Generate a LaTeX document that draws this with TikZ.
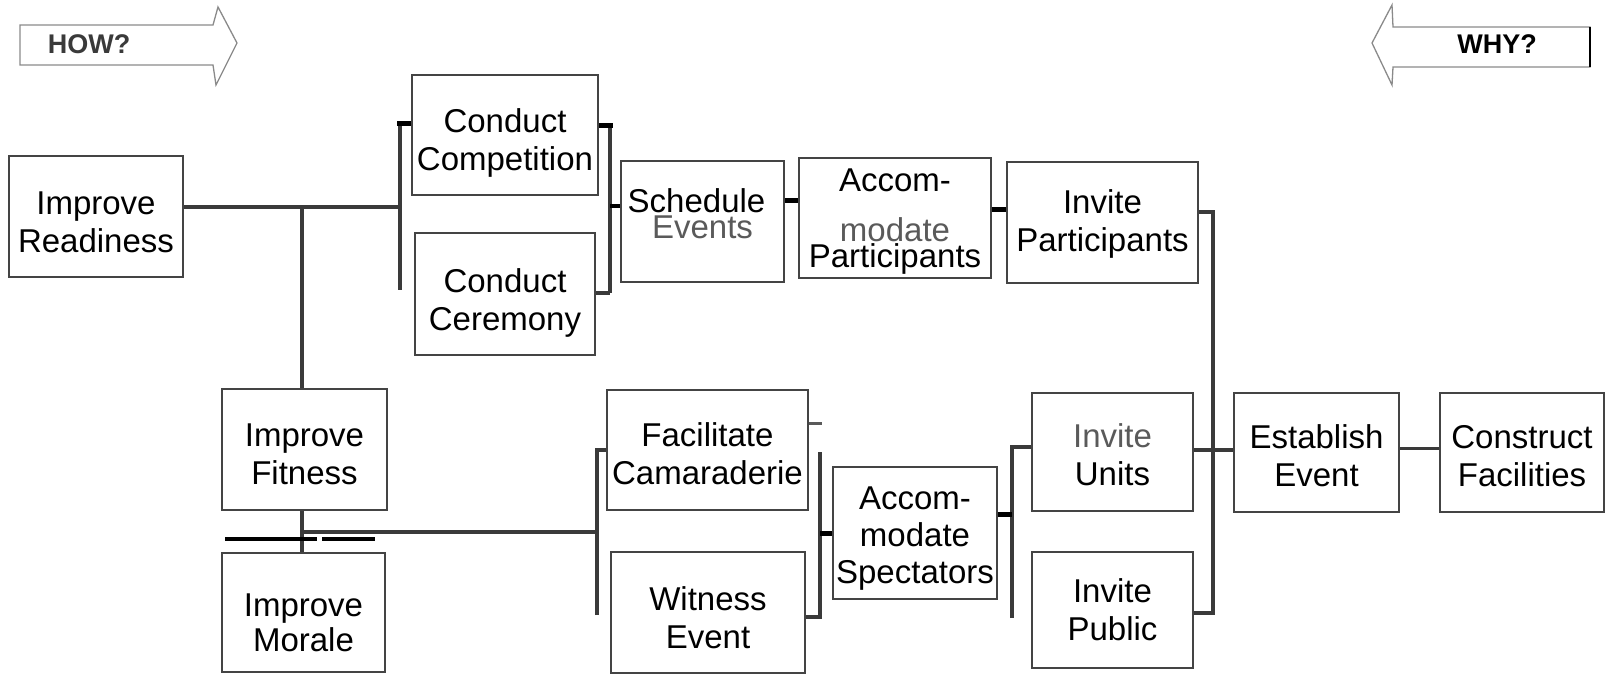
\documentclass[tikz,border=0pt]{standalone}
\usepackage{fontspec}
\setmainfont{Liberation Sans}
\definecolor{boxline}{HTML}{444444}
\definecolor{linkgray}{HTML}{3A3A3A}
\definecolor{textgray}{HTML}{5A5A5A}
\definecolor{arrowgray}{HTML}{8A8A8A}
% struts that set where the text lines sit inside a box
\newcommand\boxtopstrut[1]{\rule{0pt}{#1pt}}
\newcommand\boxbotstrut[1]{\rule[-#1pt]{0pt}{#1pt}}
\begin{document}
\begin{tikzpicture}[x=1pt,y=-1pt,
  fbox/.style={draw=boxline, line width=2.6pt, align=center, inner sep=0pt,
    font=\fontsize{33}{38}\selectfont, text=black},
  link/.style={draw=linkgray, line width=4pt},
  stub/.style={draw=black, line width=5pt},
  hint/.style={font=\fontsize{27}{30}\selectfont\bfseries, inner sep=0pt}]
\useasboundingbox (0,0) rectangle (1606,677);

% HOW? / WHY? direction arrows
\draw[arrowgray, line width=1.3pt, line join=miter]
  (20,25) -- (213,25) -- (218,7) -- (237,43) -- (216,85) -- (213,65) -- (20,65) -- cycle;
\node[hint, text=linkgray] (how) at (89,44) {HOW?};
\draw[arrowgray, line width=1.3pt, line join=miter]
  (1590,27) -- (1393,27) -- (1392,5) -- (1372,43) -- (1392,85) -- (1393,67) -- (1590,67) -- cycle;
\draw[black, line width=2pt] (1590,27) -- (1590,67);
\node[hint, text=black] (why) at (1497,44) {WHY?};

% function boxes
\node[fbox, minimum width=174pt, minimum height=121pt] (IR) at (96,216.5)
  {\boxtopstrut{43.6}Improve\\Readiness\boxbotstrut{9}};
\node[fbox, minimum width=186pt, minimum height=120pt] (CC1) at (505,135)
  {\boxtopstrut{42.6}Conduct\\Competition\boxbotstrut{9}};
\node[fbox, minimum width=180pt, minimum height=122pt] (CC2) at (505,294)
  {\boxtopstrut{44.6}Conduct\\Ceremony\boxbotstrut{9}};
\node[fbox, minimum width=163pt, minimum height=121pt] (SE) at (702.5,221.5)
  {Schedule\hspace*{12pt}\\[-12pt]{\color{textgray}Events}\boxbotstrut{15}};
\node[fbox, minimum width=192pt, minimum height=120pt] (AP) at (895,218)
  {\boxtopstrut{32.6}Accom-\\[12pt]{\color{textgray}modate}\\[-12pt]Participants\boxbotstrut{9}};
\node[fbox, minimum width=191pt, minimum height=121pt] (IP) at (1102.5,222.5)
  {\boxtopstrut{29.6}Invite\\Participants\boxbotstrut{9}};
\node[fbox, minimum width=165pt, minimum height=121pt] (IF) at (304.5,449.5)
  {\boxtopstrut{41.6}Improve\\Fitness\boxbotstrut{9}};
\node[fbox, minimum width=163pt, minimum height=119pt] (IM) at (303.5,612.5)
  {\boxtopstrut{51.6}Improve\\[-3pt]Morale\boxbotstrut{9}};
\node[fbox, minimum width=201pt, minimum height=120pt] (FC) at (707.5,450)
  {\boxtopstrut{40.6}Facilitate\\Camaraderie\boxbotstrut{9}};
\node[fbox, minimum width=194pt, minimum height=121pt] (WE) at (708,612.5)
  {\boxtopstrut{43.6}Witness\\Event\boxbotstrut{9}};
\node[fbox, minimum width=164pt, minimum height=132pt] (AS) at (915,533)
  {\boxtopstrut{36.6}Accom-\\[-1pt]modate\\[-1pt]Spectators\boxbotstrut{9}};
\node[fbox, minimum width=161pt, minimum height=118pt] (IU) at (1112.5,452)
  {\boxtopstrut{37.6}{\color{textgray}Invite}\\Units\boxbotstrut{9}};
\node[fbox, minimum width=161pt, minimum height=116pt] (IPub) at (1112.5,610)
  {\boxtopstrut{32.6}Invite\\Public\boxbotstrut{9}};
\node[fbox, minimum width=165pt, minimum height=119pt] (EE) at (1316.5,452.5)
  {\boxtopstrut{39.6}Establish\\Event\boxbotstrut{9}};
\node[fbox, minimum width=164pt, minimum height=119pt] (CF) at (1522,452.5)
  {\boxtopstrut{39.6}Construct\\Facilities\boxbotstrut{9}};

% junction and bracket points
\coordinate (j0) at (302,207);
\coordinate (j1) at (302,532);
\coordinate (b1t) at (400,123);
\coordinate (b1b) at (400,290);
\coordinate (b2t) at (610,125);
\coordinate (b2m) at (610,206);
\coordinate (b2b) at (610,293);
\coordinate (r1) at (0,200);
\coordinate (r2) at (0,209);
\coordinate (b5t) at (1213,212);
\coordinate (b5b) at (1213,613);
\coordinate (r5) at (0,450);
\coordinate (r6) at (0,448);
\coordinate (b4t) at (1012,447);
\coordinate (b4b) at (1012,618);
\coordinate (r7) at (0,514);
\coordinate (b3t) at (820,452);
\coordinate (b3b) at (820,617);
\coordinate (r8) at (0,423);
\coordinate (b3s) at (822,423);
\coordinate (b6t) at (597,450);
\coordinate (b6b) at (597,615);

% upper branch
\draw[link] (IR.east |- j0) -- (b1t |- j0);
\draw[link] (j0) -- (j0 |- IF.north);
\draw[link] (b1t) -- (b1b);
\draw[stub] ([xshift=-3pt]b1t) -- (b1t -| CC1.west);
\draw[link] (b2t) -- (b2b);
\draw[stub] (b2t -| CC1.east) -- ([xshift=3pt]b2t);
\draw[link] (b2b -| CC2.east) -- (b2b);
\draw[draw=black, line width=3.5pt] (b2m) -- (b2m -| SE.west);
\draw[stub] (SE.east |- r1) -- (AP.west |- r1);
\draw[stub] (AP.east |- r2) -- (IP.west |- r2);

% right bracket into Establish Event
\draw[link] (IP.east |- b5t) -- (b5t) -- (b5b) -- (IPub.east |- b5b);
\draw[link] (IU.east |- r5) -- (EE.west |- r5);
\draw[link, line width=3pt] (EE.east |- r6) -- (CF.west |- r6);

% lower branch
\draw[link] (j1 |- IF.south) -- (j1 |- IM.north);
\draw[link] (j1) -- (b6t |- j1);
\draw[link] (b6b) -- (b6t) -- (b6t -| FC.west);
\draw[link] (b3t) -- (b3b) -- (b3b -| WE.east);
\draw[link, draw=textgray, line width=3pt] (FC.east |- r8) -- (b3s);
\draw[stub] (b3t |- AS.west) -- (AS.west);
\draw[link] (b4b) -- (b4t) -- (b4t -| IU.west);
\draw[stub] (AS.east |- r7) -- (b4t |- r7);

% heavy rule between Improve Fitness and Improve Morale
\draw[black, line width=4.5pt] (225,539) -- (317,539);
\draw[black, line width=4.5pt] (322,539) -- (375,539);
\end{tikzpicture}
\end{document}
